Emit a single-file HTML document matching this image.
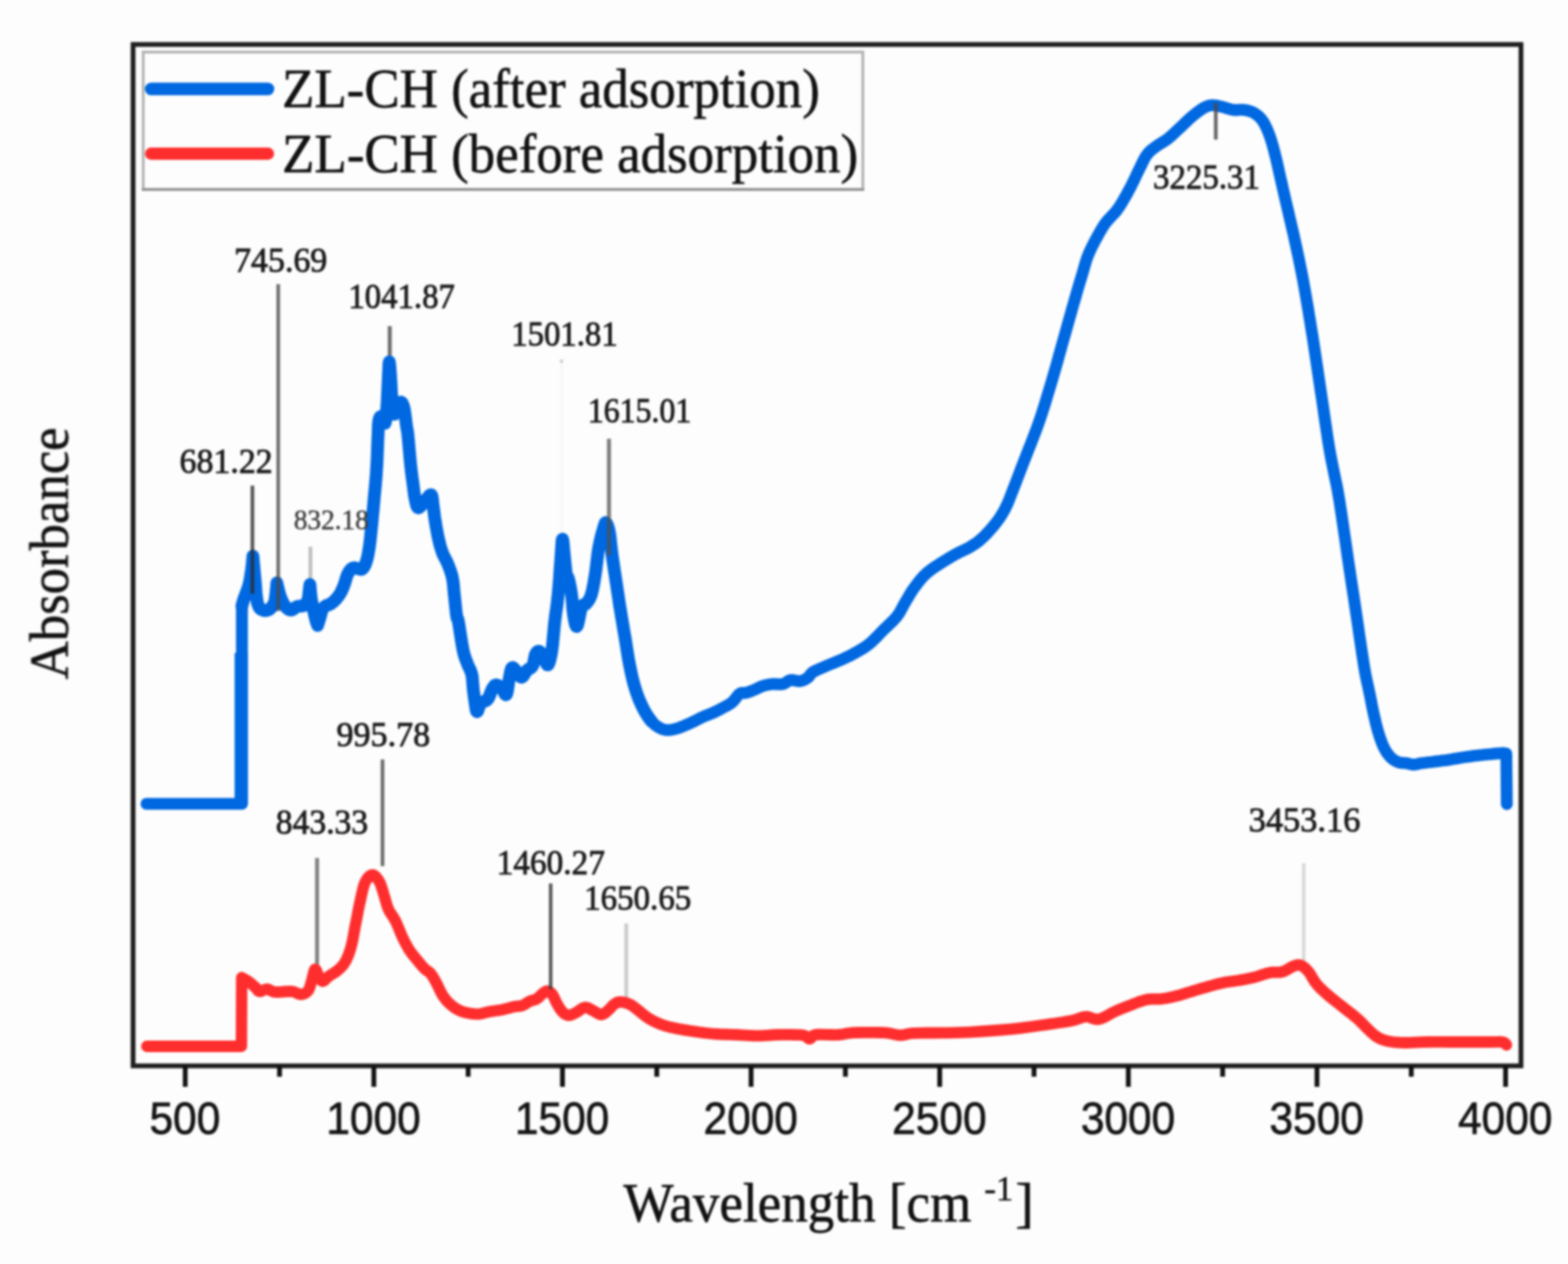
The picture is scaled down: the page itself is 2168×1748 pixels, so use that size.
<!DOCTYPE html>
<html lang="en">
<head>
<meta charset="utf-8">
<title>FTIR spectra of ZL-CH before and after adsorption</title>
<style>
html,body{margin:0;padding:0;background:#fdfdfd;}
body{width:2168px;height:1748px;overflow:hidden;}
svg{display:block;}
text{fill:#111;}
.leg{font-family:"Liberation Serif",serif;font-size:77px;stroke:#111;stroke-width:0.8px;}
.ann{font-family:"Liberation Serif",serif;fill:#1a1a1a;stroke:#1a1a1a;stroke-width:1.15px;}
.tick{font-family:"Liberation Sans",sans-serif;font-size:63px;fill:#141414;stroke:#141414;stroke-width:1px;}
.axl{font-family:"Liberation Serif",serif;font-size:76px;stroke:#111;stroke-width:0.8px;}
.sup{font-family:"Liberation Serif",serif;font-size:48px;stroke:#111;stroke-width:0.6px;}
#all{filter:blur(1.4px);}
</style>
</head>
<body>
<svg width="2168" height="1748" viewBox="0 0 2168 1748">
<rect x="0" y="0" width="2168" height="1748" fill="#fdfdfd"/>
<g id="all">
<rect x="198" y="72" width="995" height="190" fill="none" stroke="#b4b4b4" stroke-width="4"/>
<line x1="196" y1="262" x2="1195" y2="262" stroke="#929292" stroke-width="4"/>
<line x1="209" y1="123" x2="370.5" y2="123" stroke="#0068e0" stroke-width="17.4" stroke-linecap="round"/>
<line x1="209" y1="212.5" x2="370.5" y2="212.5" stroke="#ff2e2e" stroke-width="17" stroke-linecap="round"/>
<text class="leg" x="390" y="148" textLength="743.5" lengthAdjust="spacingAndGlyphs">ZL-CH (after adsorption)</text>
<text class="leg" x="390" y="238" textLength="796.5" lengthAdjust="spacingAndGlyphs">ZL-CH (before adsorption)</text>
<line x1="429.2" y1="756.0" x2="429.2" y2="800.0" stroke="#bdbdbd" stroke-width="5.0"/>
<line x1="776.6" y1="500.0" x2="776.6" y2="742.0" stroke="#f6f6f6" stroke-width="3.5"/>
<line x1="1802.6" y1="1193.8" x2="1802.6" y2="1330.0" stroke="#dadada" stroke-width="5.0"/>
<line x1="865.9" y1="1277.0" x2="865.9" y2="1380.0" stroke="#c8c8c8" stroke-width="5.0"/>
<line x1="538.9" y1="451.0" x2="538.9" y2="492.0" stroke="#6e6e6e" stroke-width="5.5"/>
<line x1="438.4" y1="1186.5" x2="438.4" y2="1334.0" stroke="#808080" stroke-width="5.5"/>
<line x1="528.9" y1="1050.2" x2="528.9" y2="1197.7" stroke="#6a6a6a" stroke-width="5.0"/>
<path d="M203.0,1447.0 L333.8,1447.0 L334.2,1352.0 L335.2,1352.6 L336.6,1353.3 L338.2,1354.2 L340.0,1355.2 L341.8,1356.3 L343.5,1357.4 L345.1,1358.6 L346.9,1360.0 L348.6,1361.4 L350.2,1362.9 L351.8,1364.3 L353.2,1365.5 L354.3,1366.7 L355.2,1367.9 L356.0,1369.0 L356.8,1370.0 L357.7,1370.7 L358.9,1371.1 L360.4,1371.0 L362.0,1370.4 L363.8,1369.6 L365.7,1368.8 L367.6,1368.1 L369.4,1367.9 L371.1,1368.2 L372.7,1368.9 L374.2,1369.8 L376.0,1370.7 L378.1,1371.4 L380.6,1371.9 L383.8,1372.0 L387.6,1371.8 L391.8,1371.5 L396.0,1371.2 L399.9,1371.0 L403.2,1371.1 L405.9,1371.6 L408.3,1372.4 L410.5,1373.4 L412.4,1374.3 L414.2,1375.0 L416.1,1375.2 L418.0,1375.0 L419.8,1374.5 L421.5,1373.8 L423.0,1372.9 L424.5,1371.7 L425.8,1370.3 L426.9,1368.7 L427.8,1366.7 L428.5,1364.6 L429.2,1362.3 L429.9,1359.9 L430.6,1357.4 L431.4,1354.5 L432.2,1351.1 L433.1,1347.6 L433.9,1344.4 L434.7,1341.9 L435.5,1340.5 L436.3,1340.5 L437.1,1341.5 L437.9,1343.2 L438.6,1345.3 L439.4,1347.3 L440.3,1349.0 L441.2,1350.5 L442.0,1352.3 L442.9,1354.0 L443.8,1355.5 L444.9,1356.5 L446.0,1357.0 L447.2,1356.7 L448.6,1355.8 L449.9,1354.5 L451.4,1353.0 L453.1,1351.4 L454.8,1350.0 L456.7,1348.7 L458.9,1347.3 L461.2,1345.9 L463.5,1344.5 L465.7,1342.9 L467.7,1341.3 L469.5,1339.7 L471.2,1338.1 L472.8,1336.4 L474.4,1334.6 L475.9,1332.5 L477.4,1330.0 L478.9,1327.2 L480.3,1324.1 L481.7,1320.8 L483.0,1317.2 L484.3,1313.3 L485.5,1309.0 L486.7,1304.3 L487.8,1299.1 L488.8,1293.6 L489.8,1288.0 L490.8,1282.3 L491.9,1276.8 L493.0,1271.3 L494.1,1265.7 L495.1,1260.2 L496.2,1254.7 L497.3,1249.4 L498.4,1244.5 L499.4,1239.8 L500.4,1235.3 L501.4,1231.0 L502.4,1227.1 L503.5,1223.4 L504.8,1220.3 L506.2,1217.5 L507.8,1215.1 L509.4,1213.0 L511.1,1211.4 L512.8,1210.3 L514.5,1209.8 L516.2,1210.1 L517.9,1211.0 L519.6,1212.5 L521.2,1214.4 L522.8,1216.5 L524.2,1218.7 L525.5,1221.1 L526.6,1223.9 L527.6,1226.9 L528.6,1230.0 L529.6,1233.3 L530.6,1236.5 L531.6,1239.9 L532.6,1243.4 L533.6,1247.1 L534.7,1250.7 L535.8,1254.2 L537.1,1257.4 L538.5,1260.3 L540.1,1262.9 L541.8,1265.3 L543.4,1267.8 L545.1,1270.5 L546.8,1273.5 L548.4,1276.9 L550.0,1280.7 L551.7,1284.7 L553.3,1288.7 L554.9,1292.5 L556.5,1296.1 L558.1,1299.4 L559.6,1302.5 L561.2,1305.5 L562.8,1308.4 L564.4,1311.2 L566.1,1313.9 L567.9,1316.5 L569.8,1319.1 L571.7,1321.6 L573.7,1323.9 L575.6,1326.2 L577.4,1328.4 L579.1,1330.5 L580.8,1332.6 L582.5,1334.6 L584.0,1336.4 L585.6,1338.1 L587.1,1339.7 L588.5,1341.0 L589.9,1342.0 L591.3,1342.8 L592.6,1343.7 L593.9,1344.7 L595.2,1346.1 L596.5,1347.8 L597.9,1349.8 L599.2,1351.9 L600.5,1354.2 L601.9,1356.6 L603.2,1359.0 L604.5,1361.6 L605.9,1364.3 L607.2,1367.2 L608.5,1370.0 L609.9,1372.7 L611.3,1375.2 L612.7,1377.4 L614.1,1379.4 L615.5,1381.3 L616.9,1383.1 L618.5,1384.8 L620.1,1386.5 L621.9,1388.2 L623.7,1389.8 L625.7,1391.4 L627.7,1393.0 L629.7,1394.3 L631.8,1395.6 L633.9,1396.7 L636.0,1397.7 L638.2,1398.6 L640.4,1399.3 L642.8,1400.0 L645.2,1400.6 L647.8,1401.1 L650.6,1401.6 L653.5,1402.0 L656.3,1402.2 L659.2,1402.3 L661.9,1402.3 L664.5,1402.0 L667.0,1401.5 L669.4,1400.9 L671.8,1400.2 L674.3,1399.6 L676.9,1399.0 L679.6,1398.6 L682.4,1398.2 L685.2,1397.8 L688.0,1397.4 L690.9,1397.0 L693.7,1396.5 L696.5,1395.9 L699.5,1395.1 L702.4,1394.4 L705.2,1393.6 L707.9,1392.9 L710.4,1392.3 L712.7,1391.9 L714.7,1391.7 L716.7,1391.5 L718.5,1391.4 L720.3,1391.1 L722.1,1390.6 L723.9,1389.8 L725.6,1388.9 L727.2,1387.8 L728.8,1386.7 L730.5,1385.7 L732.1,1384.8 L733.8,1384.1 L735.5,1383.6 L737.2,1383.2 L738.9,1382.7 L740.5,1382.2 L742.1,1381.4 L743.6,1380.3 L745.1,1379.1 L746.5,1377.7 L747.9,1376.2 L749.2,1375.0 L750.5,1373.9 L751.7,1373.0 L752.9,1372.1 L754.0,1371.4 L755.0,1370.9 L756.1,1370.5 L757.2,1370.5 L758.3,1370.8 L759.4,1371.3 L760.6,1372.0 L761.7,1373.0 L762.8,1374.2 L763.9,1375.6 L765.0,1377.4 L766.1,1379.5 L767.2,1381.8 L768.2,1384.3 L769.4,1386.7 L770.6,1388.9 L771.9,1391.0 L773.2,1393.2 L774.6,1395.4 L776.1,1397.4 L777.5,1399.1 L778.9,1400.6 L780.3,1401.7 L781.6,1402.6 L783.0,1403.3 L784.4,1403.7 L785.8,1404.0 L787.3,1404.0 L788.9,1403.8 L790.5,1403.3 L792.1,1402.5 L793.8,1401.7 L795.5,1400.7 L797.3,1399.8 L799.2,1398.7 L801.1,1397.3 L803.0,1395.9 L805.0,1394.6 L807.0,1393.6 L809.0,1393.1 L811.0,1393.3 L812.9,1393.9 L814.9,1394.9 L816.9,1396.0 L818.8,1397.1 L820.7,1398.1 L822.6,1399.1 L824.5,1400.2 L826.3,1401.3 L828.1,1402.2 L829.9,1402.9 L831.6,1403.1 L833.2,1402.8 L834.8,1402.1 L836.4,1401.0 L837.9,1399.8 L839.3,1398.5 L840.8,1397.3 L842.2,1396.0 L843.7,1394.5 L845.1,1392.9 L846.4,1391.4 L847.8,1390.0 L849.2,1388.9 L850.5,1388.0 L851.8,1387.2 L853.0,1386.5 L854.4,1386.0 L855.8,1385.7 L857.5,1385.6 L859.5,1385.7 L861.7,1386.0 L864.0,1386.5 L866.4,1387.2 L868.7,1388.0 L870.9,1388.9 L872.9,1390.0 L874.9,1391.3 L876.9,1392.7 L878.8,1394.3 L880.7,1395.8 L882.6,1397.3 L884.5,1398.8 L886.4,1400.4 L888.3,1402.0 L890.3,1403.5 L892.3,1405.1 L894.3,1406.5 L896.4,1407.9 L898.5,1409.2 L900.7,1410.5 L902.9,1411.7 L905.3,1412.9 L907.7,1414.0 L910.2,1415.1 L912.7,1416.1 L915.3,1417.1 L918.1,1418.1 L921.1,1419.0 L924.4,1419.9 L928.0,1420.8 L931.9,1421.6 L936.0,1422.5 L940.4,1423.3 L945.0,1424.1 L950.0,1424.9 L955.4,1425.7 L961.2,1426.6 L967.4,1427.5 L973.6,1428.3 L979.8,1429.0 L985.7,1429.6 L991.5,1430.0 L997.2,1430.3 L1002.9,1430.5 L1008.5,1430.7 L1014.0,1430.8 L1019.2,1431.0 L1024.2,1431.3 L1028.9,1431.6 L1033.5,1431.9 L1037.9,1432.1 L1042.4,1432.3 L1047.0,1432.4 L1051.7,1432.3 L1056.5,1432.1 L1061.3,1431.8 L1066.0,1431.5 L1070.6,1431.2 L1074.9,1431.0 L1079.0,1430.9 L1083.0,1430.9 L1086.9,1430.8 L1090.5,1430.9 L1094.0,1430.9 L1097.2,1431.0 L1100.2,1431.1 L1103.0,1431.1 L1105.5,1431.2 L1107.9,1431.4 L1110.0,1431.6 L1112.0,1432.0 L1113.7,1432.7 L1115.0,1433.6 L1116.2,1434.7 L1117.2,1435.7 L1118.3,1436.4 L1119.5,1436.6 L1120.6,1436.2 L1121.4,1435.3 L1122.3,1434.1 L1123.4,1432.8 L1125.2,1431.7 L1127.9,1431.0 L1131.8,1430.7 L1136.8,1430.7 L1142.3,1430.8 L1148.1,1431.0 L1153.6,1431.1 L1158.5,1431.0 L1162.5,1430.7 L1165.8,1430.2 L1168.9,1429.6 L1172.2,1429.0 L1176.1,1428.5 L1180.8,1428.2 L1186.9,1428.0 L1194.0,1427.9 L1201.7,1427.8 L1209.4,1427.8 L1216.5,1428.0 L1222.6,1428.2 L1227.5,1428.6 L1231.6,1429.3 L1235.1,1430.1 L1238.4,1430.8 L1241.6,1431.4 L1244.9,1431.6 L1247.9,1431.5 L1250.3,1431.0 L1252.6,1430.5 L1255.3,1429.8 L1259.1,1429.2 L1264.4,1428.8 L1271.8,1428.6 L1280.8,1428.5 L1290.9,1428.5 L1301.3,1428.4 L1311.3,1428.4 L1320.2,1428.2 L1328.0,1427.9 L1335.2,1427.6 L1342.0,1427.3 L1348.6,1426.9 L1355.2,1426.5 L1362.0,1426.0 L1369.0,1425.5 L1375.9,1425.0 L1382.9,1424.5 L1389.9,1423.9 L1396.8,1423.3 L1403.8,1422.6 L1410.8,1421.8 L1417.9,1420.9 L1425.0,1420.0 L1432.1,1419.0 L1439.0,1418.0 L1445.6,1417.1 L1452.2,1416.2 L1458.7,1415.2 L1465.1,1414.3 L1471.2,1413.4 L1476.8,1412.4 L1481.8,1411.5 L1486.0,1410.5 L1489.6,1409.3 L1492.7,1408.2 L1495.5,1407.2 L1498.3,1406.4 L1501.3,1406.0 L1504.3,1406.2 L1507.2,1407.0 L1510.0,1408.1 L1512.9,1409.1 L1515.9,1409.7 L1519.2,1409.5 L1522.8,1408.5 L1526.7,1406.8 L1530.7,1404.7 L1534.8,1402.4 L1538.8,1400.2 L1542.6,1398.3 L1546.3,1396.7 L1549.9,1395.2 L1553.4,1393.8 L1556.9,1392.5 L1560.4,1391.1 L1563.9,1389.8 L1567.4,1388.4 L1571.0,1387.0 L1574.5,1385.6 L1578.1,1384.4 L1581.6,1383.3 L1585.2,1382.4 L1588.8,1381.9 L1592.3,1381.7 L1595.9,1381.7 L1599.5,1381.7 L1603.0,1381.6 L1606.6,1381.3 L1610.2,1380.8 L1613.7,1380.2 L1617.3,1379.5 L1620.8,1378.7 L1624.4,1377.9 L1627.9,1377.0 L1631.5,1376.1 L1635.0,1375.0 L1638.6,1373.9 L1642.1,1372.8 L1645.7,1371.7 L1649.2,1370.6 L1652.8,1369.5 L1656.3,1368.5 L1659.8,1367.4 L1663.4,1366.3 L1667.0,1365.3 L1670.5,1364.3 L1674.0,1363.3 L1677.6,1362.4 L1681.2,1361.4 L1684.7,1360.5 L1688.2,1359.7 L1691.8,1358.9 L1695.3,1358.3 L1698.9,1357.7 L1702.4,1357.2 L1706.0,1356.8 L1709.5,1356.3 L1713.1,1355.7 L1716.6,1355.1 L1720.2,1354.5 L1723.8,1353.8 L1727.3,1353.1 L1730.8,1352.3 L1734.4,1351.5 L1738.0,1350.5 L1741.7,1349.3 L1745.3,1348.1 L1748.9,1346.9 L1752.4,1345.9 L1755.7,1345.1 L1758.8,1344.7 L1761.8,1344.6 L1764.6,1344.6 L1767.4,1344.6 L1770.1,1344.5 L1772.8,1344.0 L1775.5,1343.1 L1778.1,1341.8 L1780.7,1340.3 L1783.2,1338.8 L1785.5,1337.5 L1787.7,1336.5 L1789.7,1335.8 L1791.4,1335.1 L1793.1,1334.6 L1794.7,1334.4 L1796.3,1334.4 L1798.0,1334.8 L1799.8,1335.6 L1801.6,1336.6 L1803.5,1338.0 L1805.3,1339.6 L1807.2,1341.5 L1809.0,1343.5 L1810.8,1345.8 L1812.4,1348.5 L1814.1,1351.4 L1815.8,1354.3 L1817.7,1357.3 L1819.7,1360.0 L1821.9,1362.6 L1824.1,1365.0 L1826.5,1367.4 L1829.0,1369.8 L1831.7,1372.3 L1834.6,1374.9 L1837.8,1377.6 L1841.2,1380.4 L1844.8,1383.3 L1848.6,1386.2 L1852.3,1389.1 L1855.9,1392.0 L1859.5,1394.9 L1863.2,1397.8 L1867.0,1400.6 L1870.6,1403.5 L1874.0,1406.3 L1877.2,1409.0 L1880.1,1411.7 L1882.7,1414.3 L1885.2,1416.8 L1887.5,1419.3 L1889.8,1421.7 L1892.1,1423.9 L1894.3,1426.0 L1896.4,1428.0 L1898.5,1429.9 L1900.6,1431.6 L1902.7,1433.2 L1904.9,1434.6 L1907.2,1435.8 L1909.5,1436.9 L1911.8,1437.8 L1914.3,1438.6 L1916.9,1439.3 L1919.8,1439.9 L1922.9,1440.5 L1926.0,1441.0 L1929.4,1441.3 L1933.0,1441.6 L1936.9,1441.9 L1941.1,1442.0 L1945.7,1442.0 L1950.6,1441.9 L1955.8,1441.6 L1961.3,1441.4 L1967.0,1441.1 L1973.1,1441.0 L1979.6,1440.9 L1986.5,1440.9 L1993.7,1440.9 L2001.1,1441.0 L2008.5,1441.0 L2015.7,1441.0 L2023.1,1441.0 L2030.8,1441.0 L2038.5,1441.0 L2045.8,1441.0 L2052.6,1441.0 L2058.3,1441.0 L2063.0,1441.0 L2066.9,1440.9 L2070.2,1440.8 L2073.0,1440.7 L2075.4,1440.8 L2077.5,1441.0 L2079.3,1441.5 L2080.5,1442.2 L2081.4,1443.0 L2082.0,1443.8 L2082.5,1444.5 L2082.9,1445.0" fill="none" stroke="#ff2e2e" stroke-width="15.8" stroke-linejoin="round" stroke-linecap="round"/>
<path d="M202.5,1111.6 L334.5,1111.6 L334.5,838.2 L334.7,837.3 L335.0,836.1 L335.4,834.7 L335.8,833.2 L336.2,831.6 L336.6,830.2 L337.0,829.0 L337.4,827.8 L337.9,826.6 L338.4,825.3 L338.9,823.9 L339.5,822.3 L340.2,820.4 L341.0,818.2 L341.8,816.0 L342.7,813.6 L343.5,811.3 L344.1,809.0 L344.7,806.8 L345.1,804.6 L345.6,802.4 L345.9,800.2 L346.3,798.0 L346.6,795.8 L347.0,793.6 L347.3,791.4 L347.7,789.2 L348.0,787.0 L348.2,784.7 L348.5,782.5 L348.8,780.1 L349.0,777.5 L349.2,774.9 L349.4,772.5 L349.6,770.5 L349.7,769.0 L349.8,770.5 L350.0,772.5 L350.2,774.9 L350.4,777.5 L350.7,780.1 L350.9,782.5 L351.1,784.7 L351.3,787.0 L351.5,789.2 L351.7,791.4 L351.9,793.6 L352.1,795.8 L352.3,798.0 L352.5,800.2 L352.7,802.4 L352.9,804.6 L353.1,806.8 L353.3,809.0 L353.5,811.3 L353.6,813.5 L353.8,815.8 L353.9,818.0 L354.1,820.2 L354.3,822.3 L354.5,824.3 L354.8,826.3 L355.0,828.3 L355.3,830.2 L355.6,831.9 L355.9,833.5 L356.3,835.0 L356.8,836.4 L357.3,837.7 L357.8,838.9 L358.4,839.9 L359.0,840.8 L359.7,841.6 L360.4,842.2 L361.2,842.7 L362.1,843.1 L362.9,843.4 L363.6,843.7 L364.3,844.0 L365.0,844.2 L365.6,844.3 L366.2,844.3 L366.9,844.3 L367.6,844.3 L368.3,844.2 L369.1,844.0 L369.9,843.8 L370.7,843.6 L371.5,843.2 L372.2,842.8 L372.9,842.3 L373.6,841.7 L374.3,841.1 L374.9,840.4 L375.6,839.6 L376.2,838.8 L376.8,838.0 L377.4,837.2 L378.0,836.3 L378.5,835.3 L379.1,834.2 L379.5,832.9 L379.9,831.4 L380.3,829.9 L380.6,828.2 L380.8,826.4 L381.1,824.4 L381.4,822.3 L381.6,819.7 L381.9,816.7 L382.2,813.5 L382.5,810.5 L382.7,807.9 L382.8,806.1 L383.2,807.9 L383.8,810.5 L384.5,813.4 L385.3,816.6 L386.0,819.6 L386.8,822.3 L387.6,824.6 L388.3,826.7 L389.1,828.8 L390.0,830.7 L390.8,832.5 L391.7,834.2 L392.6,835.7 L393.5,837.2 L394.5,838.5 L395.5,839.6 L396.4,840.6 L397.4,841.5 L398.4,842.2 L399.3,842.8 L400.3,843.2 L401.3,843.5 L402.3,843.6 L403.4,843.5 L404.4,843.1 L405.6,842.4 L406.7,841.5 L407.9,840.6 L409.0,839.8 L410.0,839.2 L410.9,838.9 L411.8,838.7 L412.7,838.5 L413.5,838.4 L414.4,838.3 L415.3,838.2 L416.3,838.0 L417.3,838.0 L418.3,837.9 L419.3,837.8 L420.3,837.5 L421.3,836.9 L422.1,836.0 L423.0,834.8 L423.8,833.5 L424.6,832.1 L425.3,830.5 L425.9,828.9 L426.3,827.1 L426.7,825.1 L426.9,823.0 L427.1,820.8 L427.3,818.8 L427.5,817.0 L427.7,815.2 L427.9,813.5 L428.1,811.9 L428.3,810.5 L428.4,809.3 L428.5,808.4 L428.6,809.3 L428.7,810.5 L428.8,811.9 L428.9,813.5 L429.0,815.2 L429.2,817.0 L429.4,818.8 L429.5,820.7 L429.7,822.6 L430.0,824.7 L430.2,826.8 L430.5,828.9 L430.9,831.0 L431.3,833.2 L431.7,835.4 L432.2,837.6 L432.7,839.9 L433.2,842.2 L433.7,844.6 L434.3,847.1 L434.8,849.8 L435.4,852.3 L436.0,854.7 L436.5,856.7 L437.0,858.6 L437.5,860.2 L438.0,861.7 L438.5,863.0 L438.9,864.1 L439.1,864.9 L439.5,863.8 L440.0,862.1 L440.6,860.2 L441.2,858.1 L441.9,856.0 L442.5,854.1 L443.0,852.1 L443.5,850.1 L444.0,848.1 L444.6,846.1 L445.1,844.3 L445.8,842.8 L446.5,841.6 L447.2,840.6 L447.9,839.8 L448.7,839.1 L449.5,838.5 L450.4,837.9 L451.3,837.4 L452.2,837.1 L453.2,836.8 L454.2,836.5 L455.3,836.1 L456.4,835.5 L457.5,834.8 L458.7,833.9 L459.9,833.0 L461.2,831.9 L462.4,830.8 L463.7,829.6 L464.9,828.2 L466.1,826.8 L467.3,825.3 L468.5,823.7 L469.6,822.0 L470.7,820.3 L471.7,818.5 L472.6,816.5 L473.5,814.5 L474.4,812.5 L475.2,810.4 L476.0,808.4 L476.7,806.2 L477.4,804.0 L478.0,801.8 L478.6,799.6 L479.3,797.6 L480.0,795.8 L480.7,794.1 L481.4,792.7 L482.1,791.3 L482.9,790.1 L483.7,789.0 L484.5,788.1 L485.3,787.3 L486.0,786.6 L486.9,786.0 L487.7,785.6 L488.6,785.3 L489.5,785.2 L490.5,785.2 L491.6,785.4 L492.8,785.8 L494.0,786.2 L495.1,786.5 L496.1,786.8 L497.1,786.9 L498.0,787.2 L498.9,787.4 L499.7,787.4 L500.6,787.2 L501.4,786.5 L502.3,785.4 L503.2,784.1 L504.2,782.4 L505.1,780.5 L505.9,778.3 L506.7,775.9 L507.5,773.2 L508.2,770.2 L508.9,766.9 L509.5,763.5 L510.1,759.8 L510.7,756.0 L511.2,752.1 L511.7,748.2 L512.2,744.0 L512.6,739.6 L513.1,734.8 L513.6,729.5 L514.2,723.7 L514.8,717.2 L515.4,710.5 L516.1,703.5 L516.7,696.5 L517.3,689.8 L517.9,683.2 L518.5,676.8 L519.1,670.4 L519.6,663.8 L520.2,657.1 L520.6,650.0 L521.1,642.2 L521.5,633.7 L521.8,625.0 L522.1,616.6 L522.4,608.9 L522.7,602.5 L522.9,597.4 L523.0,593.3 L523.1,590.0 L523.2,587.2 L523.4,584.8 L523.7,582.6 L524.1,580.5 L524.6,578.8 L525.1,577.5 L525.7,576.5 L526.3,576.0 L527.0,576.0 L527.8,577.0 L528.7,579.1 L529.7,581.6 L530.7,584.0 L531.5,585.4 L532.3,585.3 L532.9,583.6 L533.4,580.8 L533.8,577.1 L534.2,572.8 L534.5,567.9 L534.9,562.8 L535.3,557.0 L535.6,550.2 L536.0,542.9 L536.3,535.6 L536.6,528.8 L536.9,523.0 L537.1,517.7 L537.4,512.6 L537.6,507.9 L537.7,504.0 L538.0,501.4 L538.2,500.5 L538.5,501.5 L538.8,504.3 L539.2,508.3 L539.5,513.0 L539.9,518.1 L540.2,523.0 L540.5,528.1 L540.8,533.9 L541.1,539.9 L541.4,545.9 L541.8,551.4 L542.2,556.1 L542.7,560.1 L543.1,563.9 L543.6,567.2 L544.2,569.8 L544.8,571.7 L545.5,572.7 L546.3,572.4 L547.2,570.8 L548.1,568.4 L549.1,565.8 L550.0,563.3 L550.8,561.4 L551.5,560.0 L552.2,558.6 L552.9,557.5 L553.5,556.6 L554.1,556.1 L554.8,556.1 L555.5,556.6 L556.2,557.6 L556.8,558.9 L557.5,560.7 L558.2,562.8 L558.8,565.4 L559.4,568.7 L560.0,572.7 L560.6,577.1 L561.1,581.6 L561.6,585.8 L562.1,589.3 L562.5,591.8 L562.8,593.5 L563.1,594.9 L563.4,596.5 L563.7,598.9 L564.1,602.5 L564.6,607.7 L565.2,614.3 L565.8,621.6 L566.5,629.0 L567.1,636.1 L567.7,642.3 L568.3,647.5 L568.8,652.3 L569.4,656.7 L569.9,660.9 L570.5,664.8 L571.0,668.8 L571.5,672.7 L572.0,676.6 L572.4,680.3 L572.9,683.8 L573.4,687.0 L574.0,690.0 L574.6,692.8 L575.2,695.6 L575.8,698.1 L576.5,700.2 L577.3,701.7 L578.4,702.3 L579.7,701.9 L581.3,700.4 L583.0,698.4 L584.7,696.1 L586.4,693.8 L588.0,692.0 L589.5,690.3 L591.1,688.4 L592.6,686.6 L594.0,685.1 L595.3,684.3 L596.3,684.4 L597.1,685.6 L597.6,687.7 L598.0,690.5 L598.3,693.7 L598.6,696.9 L599.0,700.0 L599.4,702.9 L599.8,706.0 L600.2,709.1 L600.6,712.3 L601.0,715.8 L601.6,719.5 L602.3,723.6 L603.0,728.1 L603.9,732.8 L604.7,737.5 L605.6,741.9 L606.5,746.0 L607.4,749.7 L608.2,753.1 L609.1,756.3 L610.0,759.3 L611.0,762.2 L612.0,765.0 L613.1,767.6 L614.2,769.8 L615.3,772.0 L616.5,774.2 L617.7,776.5 L618.8,779.1 L620.0,782.0 L621.2,785.1 L622.4,788.3 L623.5,791.7 L624.6,795.2 L625.5,799.0 L626.2,803.0 L626.8,807.3 L627.2,811.8 L627.6,816.4 L628.0,821.0 L628.5,825.5 L629.0,830.1 L629.5,835.0 L630.0,839.9 L630.5,844.6 L630.9,848.7 L631.4,852.0 L631.8,854.0 L632.1,854.8 L632.4,855.1 L632.7,855.5 L633.2,856.9 L633.8,859.8 L634.7,864.8 L635.7,871.5 L636.9,879.0 L638.1,886.6 L639.3,893.7 L640.4,899.5 L641.4,903.9 L642.4,907.4 L643.4,910.4 L644.4,913.0 L645.4,915.5 L646.4,918.1 L647.4,920.7 L648.5,923.0 L649.6,925.3 L650.6,927.5 L651.5,929.9 L652.3,932.6 L652.9,935.6 L653.2,938.8 L653.5,942.2 L653.7,945.7 L654.0,949.1 L654.3,952.5 L654.7,955.9 L655.2,959.4 L655.6,963.0 L656.1,966.4 L656.5,969.5 L657.0,972.4 L657.4,975.1 L657.8,977.8 L658.1,980.3 L658.5,982.4 L659.0,983.8 L659.6,984.3 L660.3,983.6 L661.0,981.9 L661.8,979.4 L662.7,976.8 L663.8,974.3 L664.9,972.4 L666.2,971.2 L667.8,970.5 L669.5,969.9 L671.2,969.3 L672.8,968.4 L674.2,967.1 L675.5,965.1 L676.6,962.6 L677.8,959.8 L678.8,957.0 L679.8,954.5 L680.8,952.5 L681.7,951.0 L682.6,949.7 L683.4,948.6 L684.2,947.8 L685.1,947.4 L686.1,947.2 L687.3,947.4 L688.6,948.1 L690.1,949.0 L691.5,950.1 L692.9,951.3 L694.1,952.5 L695.2,954.0 L696.3,956.0 L697.4,958.2 L698.3,959.9 L699.2,960.8 L700.1,960.5 L700.9,958.6 L701.6,955.4 L702.2,951.4 L702.8,947.1 L703.4,942.9 L704.0,939.3 L704.6,936.1 L705.2,932.8 L705.8,929.6 L706.4,926.8 L707.1,924.7 L708.0,923.4 L709.0,923.2 L710.2,923.9 L711.5,925.3 L712.8,927.0 L714.1,928.6 L715.3,930.0 L716.4,931.3 L717.4,932.8 L718.3,934.3 L719.3,935.6 L720.2,936.4 L721.3,936.6 L722.4,935.9 L723.6,934.6 L724.8,932.8 L726.0,930.8 L727.2,928.9 L728.5,927.3 L729.8,926.2 L731.3,925.2 L732.7,924.4 L734.1,923.5 L735.4,922.3 L736.5,920.7 L737.4,918.5 L738.1,915.6 L738.7,912.6 L739.2,909.6 L739.8,906.9 L740.5,904.8 L741.3,903.3 L742.1,902.1 L743.0,901.2 L743.9,900.7 L744.8,900.6 L745.8,900.8 L746.8,901.6 L748.0,902.9 L749.1,904.6 L750.2,906.5 L751.4,908.4 L752.4,910.1 L753.4,912.0 L754.3,914.3 L755.1,916.6 L756.0,918.5 L756.8,919.5 L757.7,919.4 L758.6,918.0 L759.5,915.7 L760.4,912.5 L761.3,908.7 L762.2,904.3 L763.0,899.5 L763.7,894.0 L764.4,887.6 L765.0,880.7 L765.7,873.6 L766.3,866.5 L767.0,859.8 L767.8,853.6 L768.5,847.8 L769.4,842.0 L770.2,836.0 L770.9,829.6 L771.7,822.5 L772.4,814.2 L773.2,804.9 L773.9,795.2 L774.5,785.6 L775.2,776.8 L775.7,769.5 L776.1,763.3 L776.5,757.6 L776.8,752.8 L777.1,749.0 L777.3,746.6 L777.7,745.7 L778.1,746.9 L778.6,750.1 L779.0,754.6 L779.5,759.8 L779.9,765.0 L780.4,769.5 L780.8,773.7 L781.2,778.1 L781.7,782.4 L782.1,786.6 L782.5,790.3 L783.0,793.4 L783.5,795.5 L784.0,796.7 L784.6,797.5 L785.1,798.3 L785.7,799.4 L786.3,801.3 L786.9,804.0 L787.6,807.2 L788.3,810.7 L789.0,814.5 L789.7,818.5 L790.3,822.5 L790.8,826.7 L791.2,831.3 L791.6,836.0 L791.9,840.7 L792.4,845.1 L792.9,849.0 L793.5,852.9 L794.2,857.1 L795.0,861.0 L795.8,864.1 L796.7,866.1 L797.6,866.3 L798.6,864.2 L799.7,859.9 L800.8,854.4 L801.9,848.6 L803.1,843.4 L804.2,839.7 L805.3,837.7 L806.4,836.6 L807.5,836.1 L808.6,835.9 L809.7,835.4 L810.8,834.4 L811.9,833.0 L813.1,831.5 L814.2,829.8 L815.4,827.8 L816.5,825.4 L817.5,822.5 L818.5,819.1 L819.4,815.2 L820.2,811.0 L821.1,806.4 L821.9,801.3 L822.8,796.0 L823.7,790.0 L824.5,783.3 L825.4,776.1 L826.2,769.0 L827.1,762.3 L828.1,756.3 L829.2,750.9 L830.3,745.8 L831.5,741.0 L832.7,736.7 L833.8,732.9 L834.7,729.8 L835.4,727.3 L836.0,725.4 L836.5,724.0 L836.9,723.1 L837.4,722.8 L838.0,723.1 L838.7,723.9 L839.5,725.3 L840.3,727.3 L841.1,729.8 L841.9,732.8 L842.6,736.4 L843.3,740.5 L843.8,745.2 L844.4,750.5 L845.0,756.3 L845.7,762.6 L846.6,769.5 L847.8,777.6 L849.2,787.0 L850.7,797.0 L852.2,806.7 L853.5,815.5 L854.6,822.5 L855.3,827.2 L855.7,830.1 L856.0,832.1 L856.2,833.8 L856.6,836.2 L857.2,840.0 L858.1,845.3 L859.1,851.6 L860.3,858.5 L861.5,865.7 L862.7,872.9 L863.9,879.8 L865.0,886.5 L866.1,893.3 L867.1,900.1 L868.2,906.8 L869.3,913.3 L870.5,919.5 L871.7,925.5 L872.9,931.3 L874.2,936.9 L875.5,942.3 L876.9,947.5 L878.4,952.6 L880.0,957.5 L881.7,962.2 L883.4,966.8 L885.3,971.1 L887.1,975.2 L889.0,979.1 L890.9,982.8 L892.9,986.2 L894.9,989.5 L897.0,992.5 L899.0,995.2 L901.0,997.7 L903.0,999.9 L905.0,1001.7 L907.0,1003.4 L909.0,1004.7 L911.0,1005.9 L912.9,1007.0 L914.7,1007.9 L916.5,1008.5 L918.2,1009.0 L919.9,1009.3 L921.7,1009.5 L923.5,1009.6 L925.4,1009.6 L927.4,1009.3 L929.4,1009.0 L931.5,1008.6 L933.5,1008.1 L935.4,1007.6 L937.2,1007.1 L938.9,1006.5 L940.6,1005.9 L942.3,1005.2 L944.1,1004.5 L946.0,1003.7 L948.1,1002.8 L950.2,1001.9 L952.5,1000.9 L954.8,999.8 L957.1,998.8 L959.3,997.7 L961.5,996.6 L963.7,995.5 L965.9,994.4 L968.1,993.2 L970.3,992.1 L972.5,991.1 L974.7,990.2 L976.9,989.3 L979.1,988.5 L981.4,987.6 L983.6,986.7 L985.8,985.8 L988.0,984.8 L990.2,983.7 L992.4,982.6 L994.6,981.5 L996.8,980.3 L999.0,979.1 L1001.2,977.9 L1003.5,976.7 L1005.8,975.5 L1008.1,974.2 L1010.2,972.8 L1012.3,971.2 L1014.2,969.3 L1016.1,967.1 L1017.8,964.8 L1019.6,962.6 L1021.2,960.7 L1022.9,959.3 L1024.5,958.5 L1026.0,958.1 L1027.5,958.1 L1029.1,958.2 L1030.6,958.2 L1032.2,957.9 L1033.9,957.4 L1035.6,956.8 L1037.3,956.2 L1039.1,955.5 L1040.9,954.8 L1042.8,954.0 L1044.7,953.2 L1046.6,952.2 L1048.6,951.3 L1050.6,950.3 L1052.6,949.4 L1054.7,948.7 L1056.8,948.1 L1059.0,947.5 L1061.1,947.0 L1063.3,946.6 L1065.6,946.3 L1067.9,946.0 L1070.3,945.9 L1072.8,946.0 L1075.4,946.2 L1077.9,946.3 L1080.3,946.3 L1082.5,946.0 L1084.5,945.3 L1086.2,944.3 L1087.8,943.2 L1089.5,942.0 L1091.2,941.1 L1093.0,940.5 L1095.1,940.4 L1097.2,940.7 L1099.5,941.2 L1101.8,941.7 L1103.9,942.0 L1106.0,942.0 L1107.9,941.6 L1109.8,941.1 L1111.6,940.3 L1113.3,939.5 L1115.0,938.5 L1116.5,937.5 L1117.8,936.4 L1118.9,935.1 L1119.8,933.7 L1120.9,932.3 L1122.2,930.9 L1124.0,929.5 L1126.3,928.2 L1128.9,926.9 L1131.7,925.6 L1134.8,924.3 L1138.0,922.9 L1141.3,921.5 L1144.7,920.0 L1148.4,918.5 L1152.3,917.0 L1156.1,915.4 L1159.9,913.8 L1163.6,912.2 L1167.1,910.6 L1170.6,908.9 L1174.0,907.3 L1177.4,905.6 L1180.7,903.8 L1184.0,902.0 L1187.2,900.2 L1190.3,898.3 L1193.4,896.5 L1196.5,894.5 L1199.5,892.3 L1202.6,889.9 L1205.7,887.2 L1208.8,884.2 L1211.9,881.1 L1215.0,877.8 L1218.1,874.6 L1221.2,871.4 L1224.4,868.3 L1227.7,865.2 L1231.0,862.1 L1234.2,859.0 L1237.1,855.9 L1239.8,852.8 L1242.1,849.7 L1244.1,846.6 L1245.8,843.5 L1247.5,840.4 L1249.1,837.3 L1250.9,834.2 L1252.7,831.1 L1254.6,827.9 L1256.4,824.8 L1258.2,821.7 L1260.1,818.6 L1262.1,815.6 L1264.2,812.6 L1266.4,809.7 L1268.6,806.7 L1270.8,803.9 L1273.0,801.3 L1275.1,798.9 L1277.0,796.8 L1278.7,795.1 L1280.4,793.5 L1282.2,791.9 L1284.0,790.4 L1286.2,788.7 L1288.6,786.9 L1291.3,785.0 L1294.1,783.2 L1297.0,781.3 L1299.9,779.4 L1302.9,777.5 L1305.9,775.6 L1309.0,773.7 L1312.1,771.8 L1315.2,770.0 L1318.4,768.1 L1321.5,766.4 L1324.6,764.8 L1327.8,763.2 L1331.0,761.7 L1334.2,760.2 L1337.2,758.7 L1340.1,757.1 L1342.8,755.5 L1345.3,753.9 L1347.8,752.4 L1350.2,750.7 L1352.6,748.9 L1355.0,746.9 L1357.5,744.7 L1360.0,742.3 L1362.5,739.9 L1365.0,737.3 L1367.4,734.6 L1369.8,732.0 L1372.1,729.3 L1374.4,726.6 L1376.6,723.8 L1378.8,720.9 L1380.9,718.1 L1382.8,715.3 L1384.6,712.5 L1386.2,709.8 L1387.8,707.1 L1389.3,704.3 L1390.7,701.5 L1392.1,698.6 L1393.4,695.9 L1394.4,693.3 L1395.5,690.8 L1396.6,687.8 L1397.9,684.4 L1399.6,680.0 L1401.6,674.8 L1403.9,668.9 L1406.4,662.4 L1409.1,655.4 L1411.9,647.9 L1414.9,640.1 L1418.2,631.7 L1421.7,622.7 L1425.5,613.2 L1429.2,603.6 L1432.9,593.9 L1436.3,584.4 L1439.5,575.1 L1442.5,565.8 L1445.4,556.5 L1448.2,547.2 L1451.0,537.9 L1453.8,528.6 L1456.5,519.3 L1459.2,510.0 L1461.8,500.7 L1464.3,491.5 L1466.9,482.2 L1469.5,472.9 L1472.2,463.4 L1474.9,453.7 L1477.6,444.0 L1480.3,434.5 L1482.8,425.5 L1485.2,417.2 L1487.4,409.6 L1489.4,402.6 L1491.3,396.1 L1493.1,390.0 L1494.9,384.2 L1496.5,378.7 L1498.0,373.6 L1499.3,369.0 L1500.5,364.8 L1501.7,360.8 L1503.1,356.8 L1504.6,352.7 L1506.4,348.5 L1508.3,344.4 L1510.3,340.2 L1512.4,336.2 L1514.4,332.3 L1516.5,328.5 L1518.5,324.8 L1520.5,321.3 L1522.5,317.8 L1524.5,314.5 L1526.6,311.2 L1528.8,308.1 L1531.2,305.1 L1533.8,302.3 L1536.4,299.5 L1539.0,296.8 L1541.5,294.1 L1543.8,291.4 L1545.8,288.6 L1547.7,285.9 L1549.4,283.2 L1551.1,280.5 L1552.7,277.6 L1554.5,274.6 L1556.3,271.4 L1558.2,268.1 L1560.0,264.7 L1561.8,261.3 L1563.7,257.8 L1565.5,254.2 L1567.3,250.6 L1569.1,246.8 L1570.9,242.9 L1572.7,239.1 L1574.5,235.4 L1576.2,231.9 L1577.9,228.5 L1579.5,225.2 L1581.1,221.9 L1582.7,218.8 L1584.5,215.9 L1586.3,213.3 L1588.3,211.0 L1590.3,208.9 L1592.5,207.1 L1594.7,205.4 L1597.0,203.7 L1599.3,202.0 L1601.7,200.4 L1604.1,198.8 L1606.5,197.4 L1609.0,195.9 L1611.6,194.2 L1614.2,192.3 L1616.9,190.1 L1619.7,187.7 L1622.6,185.1 L1625.4,182.4 L1628.2,179.8 L1630.9,177.3 L1633.5,174.9 L1636.1,172.4 L1638.6,170.0 L1641.0,167.6 L1643.4,165.3 L1645.8,163.2 L1648.1,161.2 L1650.4,159.3 L1652.6,157.5 L1654.8,155.8 L1656.9,154.2 L1658.8,152.8 L1660.6,151.6 L1662.2,150.5 L1663.7,149.6 L1665.2,148.8 L1666.7,148.0 L1668.1,147.4 L1669.5,146.8 L1670.8,146.4 L1672.1,146.0 L1673.4,145.7 L1674.8,145.6 L1676.4,145.5 L1678.1,145.6 L1680.0,145.8 L1681.9,146.0 L1684.0,146.4 L1686.2,146.9 L1688.5,147.4 L1691.0,148.1 L1693.8,148.9 L1696.7,149.8 L1699.6,150.7 L1702.5,151.5 L1705.2,152.0 L1707.8,152.2 L1710.3,152.2 L1712.8,152.0 L1715.3,151.9 L1717.7,151.8 L1720.1,152.0 L1722.5,152.4 L1724.9,152.9 L1727.2,153.4 L1729.5,154.2 L1731.8,155.1 L1734.0,156.3 L1736.1,157.7 L1738.2,159.2 L1740.3,160.9 L1742.2,162.8 L1744.2,165.0 L1746.0,167.5 L1747.8,170.3 L1749.4,173.4 L1751.1,176.8 L1752.6,180.3 L1754.1,184.1 L1755.6,188.0 L1757.0,192.1 L1758.3,196.3 L1759.6,200.8 L1760.9,205.4 L1762.1,210.2 L1763.4,215.2 L1764.7,220.4 L1765.9,225.7 L1767.2,231.3 L1768.4,237.0 L1769.7,242.7 L1771.0,248.6 L1772.4,254.5 L1773.7,260.4 L1775.1,266.4 L1776.5,272.6 L1778.0,279.0 L1779.6,285.8 L1781.3,293.0 L1783.0,300.6 L1784.9,308.4 L1786.7,316.4 L1788.6,324.4 L1790.3,332.2 L1792.0,340.0 L1793.7,347.9 L1795.4,355.8 L1797.0,363.6 L1798.5,371.2 L1800.0,378.7 L1801.4,385.7 L1802.6,392.4 L1803.8,398.9 L1804.9,405.5 L1806.1,412.4 L1807.4,420.0 L1808.8,428.1 L1810.1,436.4 L1811.6,445.1 L1813.0,454.2 L1814.6,463.9 L1816.2,474.3 L1817.9,485.5 L1819.7,497.6 L1821.6,510.2 L1823.5,523.1 L1825.4,536.0 L1827.3,548.6 L1829.2,561.2 L1831.0,574.1 L1832.9,587.0 L1834.8,599.6 L1836.6,611.7 L1838.5,623.0 L1840.4,633.5 L1842.4,643.5 L1844.3,652.9 L1846.2,661.9 L1848.0,670.5 L1849.6,678.7 L1850.9,686.3 L1852.1,693.1 L1853.0,699.4 L1854.0,705.8 L1855.0,712.5 L1856.1,720.0 L1857.3,728.1 L1858.5,736.4 L1859.8,745.1 L1861.1,754.2 L1862.5,763.9 L1864.0,774.3 L1865.7,785.5 L1867.5,797.6 L1869.4,810.2 L1871.4,823.1 L1873.3,836.0 L1875.2,848.6 L1877.1,861.4 L1879.0,874.8 L1881.0,888.1 L1882.9,901.0 L1884.7,912.8 L1886.3,923.0 L1887.8,931.5 L1889.2,938.5 L1890.5,944.5 L1891.7,949.8 L1892.8,954.9 L1893.9,960.0 L1894.9,965.0 L1895.8,969.6 L1896.6,973.9 L1897.4,978.1 L1898.3,982.2 L1899.2,986.5 L1900.2,991.0 L1901.3,995.5 L1902.3,1000.1 L1903.5,1004.6 L1904.6,1008.9 L1905.8,1013.0 L1907.0,1016.9 L1908.3,1020.8 L1909.6,1024.4 L1910.9,1027.9 L1912.3,1031.2 L1913.7,1034.2 L1915.2,1037.0 L1916.6,1039.5 L1918.2,1041.8 L1919.8,1043.9 L1921.4,1045.8 L1923.0,1047.5 L1924.7,1049.0 L1926.4,1050.4 L1928.2,1051.5 L1930.0,1052.5 L1931.8,1053.4 L1933.6,1054.1 L1935.4,1054.6 L1937.1,1054.9 L1938.9,1055.0 L1940.7,1055.1 L1942.4,1055.2 L1944.2,1055.4 L1946.0,1055.7 L1947.7,1056.2 L1949.5,1056.6 L1951.3,1057.0 L1953.0,1057.3 L1954.8,1057.4 L1956.5,1057.3 L1958.1,1057.0 L1959.7,1056.7 L1961.4,1056.2 L1963.3,1055.8 L1965.4,1055.4 L1967.9,1055.1 L1970.5,1054.8 L1973.4,1054.4 L1976.4,1054.1 L1979.5,1053.8 L1982.6,1053.4 L1985.8,1053.0 L1989.0,1052.6 L1992.4,1052.2 L1995.8,1051.7 L1999.2,1051.3 L2002.5,1050.8 L2005.8,1050.3 L2009.1,1049.7 L2012.5,1049.2 L2015.8,1048.6 L2019.1,1048.0 L2022.4,1047.5 L2025.7,1047.0 L2029.0,1046.5 L2032.4,1046.1 L2035.7,1045.6 L2039.0,1045.2 L2042.3,1044.8 L2045.7,1044.4 L2049.1,1044.1 L2052.6,1043.7 L2056.0,1043.4 L2059.2,1043.1 L2062.2,1042.8 L2065.0,1042.5 L2067.7,1042.2 L2070.3,1042.0 L2072.7,1041.8 L2074.8,1041.6 L2076.7,1041.5 L2078.3,1041.5 L2079.6,1041.6 L2080.6,1041.8 L2081.5,1041.9 L2082.1,1042.1 L2082.7,1042.2 L2083.4,1112.0" fill="none" stroke="#0068e0" stroke-width="16.4" stroke-linejoin="round" stroke-linecap="round"/>
<path d="M334.5,838.2 L334.7,837.3 L335.0,836.1 L335.4,834.7 L335.8,833.2 L336.2,831.6 L336.6,830.2 L337.0,829.0 L337.4,827.8 L337.9,826.6 L338.4,825.3 L338.9,823.9 L339.5,822.3 L340.2,820.4 L341.0,818.2 L341.8,816.0 L342.7,813.6 L343.5,811.3 L344.1,809.0 L344.7,806.8 L345.1,804.6 L345.6,802.4 L345.9,800.2 L346.3,798.0 L346.6,795.8 L347.0,793.6 L347.3,791.4 L347.7,789.2 L348.0,787.0 L348.2,784.7 L348.5,782.5 L348.8,780.1 L349.0,777.5 L349.2,774.9 L349.4,772.5 L349.6,770.5 L349.7,769.0 L349.8,770.5 L350.0,772.5 L350.2,774.9 L350.4,777.5 L350.7,780.1 L350.9,782.5 L351.1,784.7 L351.3,787.0 L351.5,789.2 L351.7,791.4 L351.9,793.6 L352.1,795.8 L352.3,798.0 L352.5,800.2 L352.7,802.4 L352.9,804.6 L353.1,806.8 L353.3,809.0 L353.5,811.3 L353.6,813.5 L353.8,815.8 L353.9,818.0 L354.1,820.2 L354.3,822.3 L354.5,824.3 L354.8,826.3 L355.0,828.3 L355.3,830.2 L355.6,831.9 L355.9,833.5 L356.3,835.0 L356.8,836.4 L357.3,837.7 L357.8,838.9 L358.4,839.9 L359.0,840.8 L359.7,841.6 L360.4,842.2 L361.2,842.7 L362.1,843.1 L362.9,843.4 L363.6,843.7 L364.3,844.0 L365.0,844.2 L365.6,844.3 L366.2,844.3 L366.9,844.3 L367.6,844.3 L368.3,844.2 L369.1,844.0 L369.9,843.8 L370.7,843.6 L371.5,843.2 L372.2,842.8 L372.9,842.3 L373.6,841.7 L374.3,841.1 L374.9,840.4 L375.6,839.6 L376.2,838.8 L376.8,838.0 L377.4,837.2 L378.0,836.3 L378.5,835.3 L379.1,834.2 L379.5,832.9 L379.9,831.4 L380.3,829.9 L380.6,828.2 L380.8,826.4 L381.1,824.4 L381.4,822.3 L381.6,819.7 L381.9,816.7 L382.2,813.5 L382.5,810.5 L382.7,807.9 L382.8,806.1 L383.2,807.9 L383.8,810.5 L384.5,813.4 L385.3,816.6 L386.0,819.6 L386.8,822.3 L387.6,824.6 L388.3,826.7 L389.1,828.8 L390.0,830.7 L390.8,832.5 L391.7,834.2 L392.6,835.7 L393.5,837.2 L394.5,838.5 L395.5,839.6 L396.4,840.6 L397.4,841.5 L398.4,842.2 L399.3,842.8 L400.3,843.2 L401.3,843.5 L402.3,843.6 L403.4,843.5 L404.4,843.1 L405.6,842.4 L406.7,841.5 L407.9,840.6 L409.0,839.8 L410.0,839.2 L410.9,838.9 L411.8,838.7 L412.7,838.5 L413.5,838.4 L414.4,838.3 L415.3,838.2 L416.3,838.0 L417.3,838.0 L418.3,837.9 L419.3,837.8 L420.3,837.5 L421.3,836.9 L422.1,836.0 L423.0,834.8 L423.8,833.5 L424.6,832.1 L425.3,830.5 L425.9,828.9 L426.3,827.1 L426.7,825.1 L426.9,823.0 L427.1,820.8 L427.3,818.8 L427.5,817.0 L427.7,815.2 L427.9,813.5 L428.1,811.9 L428.3,810.5 L428.4,809.3 L428.5,808.4 L428.6,809.3 L428.7,810.5 L428.8,811.9 L428.9,813.5 L429.0,815.2 L429.2,817.0 L429.4,818.8 L429.5,820.7 L429.7,822.6 L430.0,824.7 L430.2,826.8 L430.5,828.9 L430.9,831.0 L431.3,833.2 L431.7,835.4 L432.2,837.6 L432.7,839.9 L433.2,842.2 L433.7,844.6 L434.3,847.1 L434.8,849.8 L435.4,852.3 L436.0,854.7 L436.5,856.7 L437.0,858.6 L437.5,860.2 L438.0,861.7 L438.5,863.0 L438.9,864.1 L439.1,864.9 L439.5,863.8 L440.0,862.1 L440.6,860.2 L441.2,858.1 L441.9,856.0 L442.5,854.1 L443.0,852.1 L443.5,850.1 L444.0,848.1 L444.6,846.1 L445.1,844.3 L445.8,842.8 L446.5,841.6 L447.2,840.6 L447.9,839.8 L448.7,839.1 L449.5,838.5 L450.4,837.9 L451.3,837.4 L452.2,837.1 L453.2,836.8 L454.2,836.5 L455.3,836.1 L456.4,835.5 L457.5,834.8 L458.7,833.9 L459.9,833.0 L461.2,831.9 L462.4,830.8 L463.7,829.6 L464.9,828.2 L466.1,826.8 L467.3,825.3 L468.5,823.7 L469.6,822.0 L470.7,820.3 L471.7,818.5 L472.6,816.5 L473.5,814.5 L474.4,812.5 L475.2,810.4 L476.0,808.4 L476.7,806.2 L477.4,804.0 L478.0,801.8 L478.6,799.6 L479.3,797.6 L480.0,795.8 L480.7,794.1 L481.4,792.7 L482.1,791.3 L482.9,790.1 L483.7,789.0 L484.5,788.1 L485.3,787.3 L486.0,786.6 L486.9,786.0 L487.7,785.6 L488.6,785.3 L489.5,785.2 L490.5,785.2 L491.6,785.4 L492.8,785.8 L494.0,786.2 L495.1,786.5 L496.1,786.8 L497.1,786.9 L498.0,787.2 L498.9,787.4 L499.7,787.4 L500.6,787.2 L501.4,786.5 L502.3,785.4 L503.2,784.1 L504.2,782.4 L505.1,780.5 L505.9,778.3 L506.7,775.9 L507.5,773.2 L508.2,770.2 L508.9,766.9 L509.5,763.5 L510.1,759.8 L510.7,756.0 L511.2,752.1 L511.7,748.2 L512.2,744.0 L512.6,739.6 L513.1,734.8 L513.6,729.5 L514.2,723.7 L514.8,717.2 L515.4,710.5 L516.1,703.5 L516.7,696.5 L517.3,689.8 L517.9,683.2 L518.5,676.8 L519.1,670.4 L519.6,663.8 L520.2,657.1 L520.6,650.0 L521.1,642.2 L521.5,633.7 L521.8,625.0 L522.1,616.6 L522.4,608.9 L522.7,602.5 L522.9,597.4 L523.0,593.3 L523.1,590.0 L523.2,587.2 L523.4,584.8 L523.7,582.6 L524.1,580.5 L524.6,578.8 L525.1,577.5 L525.7,576.5 L526.3,576.0 L527.0,576.0 L527.8,577.0 L528.7,579.1 L529.7,581.6 L530.7,584.0 L531.5,585.4 L532.3,585.3 L532.9,583.6 L533.4,580.8 L533.8,577.1 L534.2,572.8 L534.5,567.9 L534.9,562.8 L535.3,557.0 L535.6,550.2 L536.0,542.9 L536.3,535.6 L536.6,528.8 L536.9,523.0 L537.1,517.7 L537.4,512.6 L537.6,507.9 L537.7,504.0 L538.0,501.4 L538.2,500.5 L538.5,501.5 L538.8,504.3 L539.2,508.3 L539.5,513.0 L539.9,518.1 L540.2,523.0 L540.5,528.1 L540.8,533.9 L541.1,539.9 L541.4,545.9 L541.8,551.4 L542.2,556.1 L542.7,560.1 L543.1,563.9 L543.6,567.2 L544.2,569.8 L544.8,571.7 L545.5,572.7 L546.3,572.4 L547.2,570.8 L548.1,568.4 L549.1,565.8 L550.0,563.3 L550.8,561.4 L551.5,560.0 L552.2,558.6 L552.9,557.5 L553.5,556.6 L554.1,556.1 L554.8,556.1 L555.5,556.6 L556.2,557.6 L556.8,558.9 L557.5,560.7 L558.2,562.8 L558.8,565.4 L559.4,568.7 L560.0,572.7 L560.6,577.1 L561.1,581.6 L561.6,585.8 L562.1,589.3 L562.5,591.8 L562.8,593.5 L563.1,594.9 L563.4,596.5 L563.7,598.9 L564.1,602.5 L564.6,607.7 L565.2,614.3 L565.8,621.6 L566.5,629.0 L567.1,636.1 L567.7,642.3 L568.3,647.5 L568.8,652.3 L569.4,656.7 L569.9,660.9 L570.5,664.8 L571.0,668.8 L571.5,672.7 L572.0,676.6 L572.4,680.3 L572.9,683.8 L573.4,687.0 L574.0,690.0 L574.6,692.8 L575.2,695.6 L575.8,698.1 L576.5,700.2 L577.3,701.7 L578.4,702.3 L579.7,701.9 L581.3,700.4 L583.0,698.4 L584.7,696.1 L586.4,693.8 L588.0,692.0 L589.5,690.3 L591.1,688.4 L592.6,686.6 L594.0,685.1 L595.3,684.3 L596.3,684.4 L597.1,685.6 L597.6,687.7 L598.0,690.5 L598.3,693.7 L598.6,696.9 L599.0,700.0 L599.4,702.9 L599.8,706.0 L600.2,709.1 L600.6,712.3 L601.0,715.8 L601.6,719.5 L602.3,723.6 L603.0,728.1 L603.9,732.8 L604.7,737.5 L605.6,741.9 L606.5,746.0 L607.4,749.7 L608.2,753.1 L609.1,756.3 L610.0,759.3 L611.0,762.2 L612.0,765.0 L613.1,767.6 L614.2,769.8 L615.3,772.0 L616.5,774.2 L617.7,776.5 L618.8,779.1 L620.0,782.0 L621.2,785.1 L622.4,788.3 L623.5,791.7 L624.6,795.2 L625.5,799.0 L626.2,803.0 L626.8,807.3 L627.2,811.8 L627.6,816.4 L628.0,821.0 L628.5,825.5 L629.0,830.1 L629.5,835.0 L630.0,839.9 L630.5,844.6 L630.9,848.7 L631.4,852.0 L631.8,854.0 L632.1,854.8 L632.4,855.1 L632.7,855.5 L633.2,856.9 L633.8,859.8 L634.7,864.8 L635.7,871.5 L636.9,879.0 L638.1,886.6 L639.3,893.7 L640.4,899.5 L641.4,903.9 L642.4,907.4 L643.4,910.4 L644.4,913.0 L645.4,915.5 L646.4,918.1 L647.4,920.7 L648.5,923.0 L649.6,925.3 L650.6,927.5 L651.5,929.9 L652.3,932.6 L652.9,935.6 L653.2,938.8 L653.5,942.2 L653.7,945.7 L654.0,949.1 L654.3,952.5 L654.7,955.9 L655.2,959.4 L655.6,963.0 L656.1,966.4 L656.5,969.5 L657.0,972.4 L657.4,975.1 L657.8,977.8 L658.1,980.3 L658.5,982.4 L659.0,983.8 L659.6,984.3 L660.3,983.6 L661.0,981.9 L661.8,979.4 L662.7,976.8 L663.8,974.3 L664.9,972.4 L666.2,971.2 L667.8,970.5 L669.5,969.9 L671.2,969.3 L672.8,968.4 L674.2,967.1 L675.5,965.1 L676.6,962.6 L677.8,959.8 L678.8,957.0 L679.8,954.5 L680.8,952.5 L681.7,951.0 L682.6,949.7 L683.4,948.6 L684.2,947.8 L685.1,947.4 L686.1,947.2 L687.3,947.4 L688.6,948.1 L690.1,949.0 L691.5,950.1 L692.9,951.3 L694.1,952.5 L695.2,954.0 L696.3,956.0 L697.4,958.2 L698.3,959.9 L699.2,960.8 L700.1,960.5 L700.9,958.6 L701.6,955.4 L702.2,951.4 L702.8,947.1 L703.4,942.9 L704.0,939.3 L704.6,936.1 L705.2,932.8 L705.8,929.6 L706.4,926.8 L707.1,924.7 L708.0,923.4 L709.0,923.2 L710.2,923.9 L711.5,925.3 L712.8,927.0 L714.1,928.6 L715.3,930.0 L716.4,931.3 L717.4,932.8 L718.3,934.3 L719.3,935.6 L720.2,936.4 L721.3,936.6 L722.4,935.9 L723.6,934.6 L724.8,932.8 L726.0,930.8 L727.2,928.9 L728.5,927.3 L729.8,926.2 L731.3,925.2 L732.7,924.4 L734.1,923.5 L735.4,922.3 L736.5,920.7 L737.4,918.5 L738.1,915.6 L738.7,912.6 L739.2,909.6 L739.8,906.9 L740.5,904.8 L741.3,903.3 L742.1,902.1 L743.0,901.2 L743.9,900.7 L744.8,900.6 L745.8,900.8 L746.8,901.6 L748.0,902.9 L749.1,904.6 L750.2,906.5 L751.4,908.4 L752.4,910.1 L753.4,912.0 L754.3,914.3 L755.1,916.6 L756.0,918.5 L756.8,919.5 L757.7,919.4 L758.6,918.0 L759.5,915.7 L760.4,912.5 L761.3,908.7 L762.2,904.3 L763.0,899.5 L763.7,894.0 L764.4,887.6 L765.0,880.7 L765.7,873.6 L766.3,866.5 L767.0,859.8 L767.8,853.6 L768.5,847.8 L769.4,842.0 L770.2,836.0 L770.9,829.6 L771.7,822.5 L772.4,814.2 L773.2,804.9 L773.9,795.2 L774.5,785.6 L775.2,776.8 L775.7,769.5 L776.1,763.3 L776.5,757.6 L776.8,752.8 L777.1,749.0 L777.3,746.6 L777.7,745.7 L778.1,746.9 L778.6,750.1 L779.0,754.6 L779.5,759.8 L779.9,765.0 L780.4,769.5 L780.8,773.7 L781.2,778.1 L781.7,782.4 L782.1,786.6 L782.5,790.3 L783.0,793.4 L783.5,795.5 L784.0,796.7 L784.6,797.5 L785.1,798.3 L785.7,799.4 L786.3,801.3 L786.9,804.0 L787.6,807.2 L788.3,810.7 L789.0,814.5 L789.7,818.5 L790.3,822.5 L790.8,826.7 L791.2,831.3 L791.6,836.0 L791.9,840.7 L792.4,845.1 L792.9,849.0 L793.5,852.9 L794.2,857.1 L795.0,861.0 L795.8,864.1 L796.7,866.1 L797.6,866.3 L798.6,864.2 L799.7,859.9 L800.8,854.4 L801.9,848.6 L803.1,843.4 L804.2,839.7 L805.3,837.7 L806.4,836.6 L807.5,836.1 L808.6,835.9 L809.7,835.4 L810.8,834.4 L811.9,833.0 L813.1,831.5 L814.2,829.8 L815.4,827.8 L816.5,825.4 L817.5,822.5 L818.5,819.1 L819.4,815.2 L820.2,811.0 L821.1,806.4 L821.9,801.3 L822.8,796.0 L823.7,790.0 L824.5,783.3 L825.4,776.1 L826.2,769.0 L827.1,762.3 L828.1,756.3 L829.2,750.9 L830.3,745.8 L831.5,741.0 L832.7,736.7 L833.8,732.9 L834.7,729.8 L835.4,727.3 L836.0,725.4 L836.5,724.0 L836.9,723.1 L837.4,722.8 L838.0,723.1 L838.7,723.9 L839.5,725.3 L840.3,727.3 L841.1,729.8 L841.9,732.8 L842.6,736.4 L843.3,740.5 L843.8,745.2 L844.4,750.5 L845.0,756.3 L845.7,762.6 L846.6,769.5 L847.8,777.6 L849.2,787.0 L850.7,797.0 L852.2,806.7 L853.5,815.5 L854.6,822.5 L855.3,827.2 L855.7,830.1 L856.0,832.1 L856.2,833.8 L856.6,836.2 L857.2,840.0 L858.1,845.3 L859.1,851.6 L860.3,858.5 L861.5,865.7 L862.7,872.9 L863.9,879.8 L865.0,886.5 L866.1,893.3 L867.1,900.1 L868.2,906.8 L869.3,913.3 L870.5,919.5 L871.7,925.5 L872.9,931.3 L874.2,936.9 L875.5,942.3 L876.9,947.5 L878.4,952.6 L880.0,957.5 L881.7,962.2 L883.4,966.8 L885.3,971.1 L887.1,975.2 L889.0,979.1 L890.9,982.8 L892.9,986.2 L894.9,989.5 L897.0,992.5 L899.0,995.2 L901.0,997.7" fill="none" stroke="#0068e0" stroke-width="17.7" stroke-linejoin="round" stroke-linecap="round"/>
<rect x="324.4" y="903" width="18.2" height="210" fill="#0068e0"/>
<circle cx="776.3" cy="499.5" r="2.4" fill="#c8c8c8"/>
<text class="ann" x="323.7" y="375.6" font-size="49" textLength="128.8" lengthAdjust="spacingAndGlyphs">745.69</text>
<text class="ann" x="481.7" y="425.6" font-size="49" textLength="147.3" lengthAdjust="spacingAndGlyphs">1041.87</text>
<text class="ann" x="248.3" y="654.3" font-size="49" textLength="128.7" lengthAdjust="spacingAndGlyphs">681.22</text>
<text class="ann" x="406.2" y="731.8" font-size="39" textLength="103.7" lengthAdjust="spacingAndGlyphs" style="fill:#3c3c3c;stroke:#3c3c3c;stroke-width:0.6px">832.18</text>
<text class="ann" x="707.0" y="478.4" font-size="49" textLength="147.0" lengthAdjust="spacingAndGlyphs">1501.81</text>
<text class="ann" x="812.7" y="584.1" font-size="49" textLength="143.0" lengthAdjust="spacingAndGlyphs">1615.01</text>
<text class="ann" x="1594.2" y="260.6" font-size="49" textLength="147.8" lengthAdjust="spacingAndGlyphs">3225.31</text>
<text class="ann" x="465.3" y="1031.6" font-size="49" textLength="129.4" lengthAdjust="spacingAndGlyphs">995.78</text>
<text class="ann" x="381.2" y="1152.5" font-size="49" textLength="127.9" lengthAdjust="spacingAndGlyphs">843.33</text>
<text class="ann" x="686.8" y="1208.9" font-size="49" textLength="149.6" lengthAdjust="spacingAndGlyphs">1460.27</text>
<text class="ann" x="807.7" y="1258.2" font-size="49" textLength="148.0" lengthAdjust="spacingAndGlyphs">1650.65</text>
<text class="ann" x="1726.5" y="1150.1" font-size="49" textLength="154.4" lengthAdjust="spacingAndGlyphs">3453.16</text>
<line x1="349.0" y1="671.4" x2="349.0" y2="821.0" stroke="#2a2a2a" stroke-width="5.0" stroke-opacity="0.80"/>
<line x1="384.7" y1="393.0" x2="384.7" y2="845.0" stroke="#4a4a4a" stroke-width="5.0" stroke-opacity="0.80"/>
<line x1="842.0" y1="606.7" x2="842.0" y2="768.0" stroke="#505050" stroke-width="5.5" stroke-opacity="0.75"/>
<line x1="1681.0" y1="142.5" x2="1681.0" y2="193.0" stroke="#4a4a4a" stroke-width="5.0" stroke-opacity="0.85"/>
<line x1="761.4" y1="1221.7" x2="761.4" y2="1368.0" stroke="#404040" stroke-width="5.0" stroke-opacity="0.85"/>
<rect x="184" y="61.5" width="1919" height="1412.5" fill="none" stroke="#1e1e1e" stroke-width="6.6"/>
<line x1="256.1" y1="1474" x2="256.1" y2="1503" stroke="#111" stroke-width="6.6"/>
<line x1="516.9" y1="1474" x2="516.9" y2="1503" stroke="#111" stroke-width="6.6"/>
<line x1="777.7" y1="1474" x2="777.7" y2="1503" stroke="#111" stroke-width="6.6"/>
<line x1="1038.5" y1="1474" x2="1038.5" y2="1503" stroke="#111" stroke-width="6.6"/>
<line x1="1299.3" y1="1474" x2="1299.3" y2="1503" stroke="#111" stroke-width="6.6"/>
<line x1="1560.1" y1="1474" x2="1560.1" y2="1503" stroke="#111" stroke-width="6.6"/>
<line x1="1820.9" y1="1474" x2="1820.9" y2="1503" stroke="#111" stroke-width="6.6"/>
<line x1="2081.7" y1="1474" x2="2081.7" y2="1503" stroke="#111" stroke-width="6.6"/>
<line x1="386.5" y1="1474" x2="386.5" y2="1489" stroke="#111" stroke-width="6.6"/>
<line x1="647.3" y1="1474" x2="647.3" y2="1489" stroke="#111" stroke-width="6.6"/>
<line x1="908.1" y1="1474" x2="908.1" y2="1489" stroke="#111" stroke-width="6.6"/>
<line x1="1168.9" y1="1474" x2="1168.9" y2="1489" stroke="#111" stroke-width="6.6"/>
<line x1="1429.7" y1="1474" x2="1429.7" y2="1489" stroke="#111" stroke-width="6.6"/>
<line x1="1690.5" y1="1474" x2="1690.5" y2="1489" stroke="#111" stroke-width="6.6"/>
<line x1="1951.3" y1="1474" x2="1951.3" y2="1489" stroke="#111" stroke-width="6.6"/>
<text class="tick" x="255.6" y="1568" text-anchor="middle" textLength="97.8" lengthAdjust="spacingAndGlyphs">500</text>
<text class="tick" x="516.4" y="1568" text-anchor="middle" textLength="130.4" lengthAdjust="spacingAndGlyphs">1000</text>
<text class="tick" x="777.2" y="1568" text-anchor="middle" textLength="130.4" lengthAdjust="spacingAndGlyphs">1500</text>
<text class="tick" x="1038.0" y="1568" text-anchor="middle" textLength="130.4" lengthAdjust="spacingAndGlyphs">2000</text>
<text class="tick" x="1298.8" y="1568" text-anchor="middle" textLength="130.4" lengthAdjust="spacingAndGlyphs">2500</text>
<text class="tick" x="1559.6" y="1568" text-anchor="middle" textLength="130.4" lengthAdjust="spacingAndGlyphs">3000</text>
<text class="tick" x="1820.4" y="1568" text-anchor="middle" textLength="130.4" lengthAdjust="spacingAndGlyphs">3500</text>
<text class="tick" x="2081.2" y="1568" text-anchor="middle" textLength="130.4" lengthAdjust="spacingAndGlyphs">4000</text>
<text class="axl" x="862" y="1689"><tspan textLength="481" lengthAdjust="spacingAndGlyphs">Wavelength [cm</tspan><tspan class="sup" x="1349" y="1660"> -1</tspan><tspan x="1404" y="1689">]</tspan></text>
<text class="axl" transform="translate(93.5,939.5) rotate(-90)" textLength="348.5" lengthAdjust="spacingAndGlyphs">Absorbance</text>
</g>
</svg>
</body>
</html>
